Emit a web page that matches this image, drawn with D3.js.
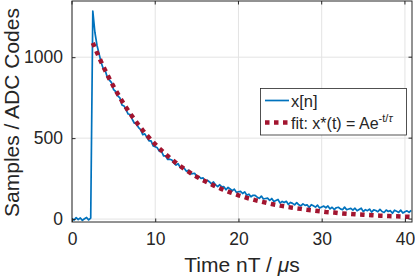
<!DOCTYPE html>
<html>
<head>
<meta charset="utf-8">
<script src="https://cdn.jsdelivr.net/npm/d3@7"></script>
<style>
  body { margin: 0; background: #fff; }
  text { font-family: "Liberation Sans", Arial, sans-serif; fill: #262626; }
</style>
</head>
<body>
<svg id="chart" width="415" height="277"></svg>
<script>
// sampled signal x[n], one sample every 0.25 us starting at t = 0
var sampleStep = 0.25;
var samples = [4,-6,9,-3,7,-8,2,10,-5,6,
  1285,1154,1074,1022,
  967,930,916,874,858,843,799,788,761,749,
  705,699,675,649,646,615,592,589,565,553,
  522,526,505,483,483,452,447,440,418,419,
  390,391,368,370,365,346,334,342,319,316,
  313,296,302,279,281,283,257,262,251,255,
  231,240,231,218,229,211,201,212,199,200,
  181,196,186,175,185,165,169,171,158,168,
  147,154,138,147,147,135,128,142,124,127,
  129,116,127,108,115,121,99,109,102,110,
  90,103,97,88,102,88,81,94,85,88,
  72,89,82,74,86,68,75,80,70,81,
  63,73,59,70,73,63,58,74,58,62,
  66,55,67,51,59,67,46,58,52,62,
  43,57,53,45,60,47,41,56,47,52,
  36,55,49,41,55,37,45,51,41,54];

// fitted curve x*(t), one point every 0.5 us starting at t = 2.5
var fitStart = 2.5, fitStep = 0.5;
var fitValues = [1089,1028,971,917,866,818,773,730,689,651,
  615,581,548,518,489,462,436,412,389,368,
  347,328,310,293,276,261,246,233,220,208,
  196,185,175,165,156,147,139,131,124,117,
  111,105,99,93,88,83,79,74,70,66,
  63,59,56,53,50,47,44,42,40,37,
  35,33,32,30,28,27,25,24,22,21,
  20,19,18,17,16,15,14,13];

var xTicks = [0, 10, 20, 30, 40];
var yTicks = [0, 500, 1000];

var blue = "#0072BD", red = "#A2142F", axisCol = "#262626";

var svg = d3.select("#chart");
var pLeft = 72, pRight = 412, pTop = 1, pBottom = 222;

var x = d3.scaleLinear().domain([0, 40.85]).range([pLeft, pRight]);
var y = d3.scaleLinear().domain([-18, 1347]).range([pBottom, pTop]);

// GRID
svg.append("g").selectAll("line").data(xTicks).enter().append("line")
    .attr("x1", d => x(d)).attr("x2", d => x(d))
    .attr("y1", pTop).attr("y2", pBottom)
    .attr("stroke", "#e3e3e3").attr("stroke-width", 1);
svg.append("g").selectAll("line").data(yTicks).enter().append("line")
    .attr("x1", pLeft).attr("x2", pRight)
    .attr("y1", d => y(d)).attr("y2", d => y(d))
    .attr("stroke", "#e3e3e3").attr("stroke-width", 1);

// DATA
svg.append("clipPath").attr("id", "clip").append("rect")
    .attr("x", pLeft).attr("y", pTop).attr("width", pRight - pLeft).attr("height", pBottom - pTop);

var line = d3.line().x(d => x(d[0])).y(d => y(d[1]));

var sigPts = samples.map((v, i) => [i * sampleStep, v]);
svg.append("path").datum(sigPts)
    .attr("clip-path", "url(#clip)")
    .attr("d", line)
    .attr("fill", "none").attr("stroke", blue)
    .attr("stroke-width", 1.7).attr("stroke-linejoin", "round");

var fitPts = fitValues.map((v, i) => [fitStart + i * fitStep, v]);
svg.append("path").datum(fitPts)
    .attr("clip-path", "url(#clip)")
    .attr("d", line)
    .attr("fill", "none").attr("stroke", red)
    .attr("stroke-width", 4.5).attr("stroke-dasharray", "4.5,4.5");

// AXES
var xAxis = d3.axisBottom(x).tickValues(xTicks).tickFormat(d3.format("d"))
    .tickSizeInner(-3.5).tickSizeOuter(0).tickPadding(11);
var yAxis = d3.axisLeft(y).tickValues(yTicks).tickFormat(d3.format("d"))
    .tickSizeInner(-3.5).tickSizeOuter(0).tickPadding(9);

var gx = svg.append("g").attr("transform", "translate(0," + pBottom + ")").call(xAxis);
var gy = svg.append("g").attr("transform", "translate(" + pLeft + ",0)").call(yAxis);
[gx, gy].forEach(function (g) {
    g.select(".domain").remove();
    g.selectAll("line").attr("stroke", axisCol);
    g.selectAll("text").attr("font-size", 17.5).attr("fill", axisCol)
        .attr("font-family", "Liberation Sans, Arial, sans-serif");
});

// top / right ticks
svg.append("g").selectAll("line").data(xTicks).enter().append("line")
    .attr("x1", d => x(d)).attr("x2", d => x(d))
    .attr("y1", pTop).attr("y2", pTop + 3.5).attr("stroke", axisCol);
svg.append("g").selectAll("line").data(yTicks).enter().append("line")
    .attr("x1", pRight).attr("x2", pRight - 3.5)
    .attr("y1", d => y(d)).attr("y2", d => y(d)).attr("stroke", axisCol);

// BOX
svg.append("rect")
    .attr("x", pLeft).attr("y", pTop).attr("width", pRight - pLeft).attr("height", pBottom - pTop)
    .attr("fill", "none").attr("stroke", axisCol).attr("stroke-width", 1);

// LABELS
var xl = svg.append("text").attr("x", (pLeft + pRight) / 2).attr("y", 272)
    .attr("text-anchor", "middle").attr("font-size", 21);
xl.append("tspan").text("Time nT / ");
xl.append("tspan").attr("font-style", "italic").text("\u03bc");
xl.append("tspan").text("s");

svg.append("text")
    .attr("transform", "translate(19," + ((pTop + pBottom) / 2 + 1) + ") rotate(-90)")
    .attr("text-anchor", "middle").attr("font-size", 21)
    .text("Samples / ADC Codes");

// LEGEND
var lg = svg.append("g");
lg.append("rect").attr("x", 260.5).attr("y", 88.5).attr("width", 146).attr("height", 46.5)
    .attr("fill", "#fff").attr("stroke", axisCol).attr("stroke-width", 0.8);
lg.append("line").attr("x1", 265).attr("x2", 289).attr("y1", 100.5).attr("y2", 100.5)
    .attr("stroke", blue).attr("stroke-width", 1.7);
lg.append("text").attr("x", 291).attr("y", 106.5).attr("font-size", 16.5).text("x[n]");
lg.append("line").attr("x1", 265).attr("x2", 289).attr("y1", 122.5).attr("y2", 122.5)
    .attr("stroke", red).attr("stroke-width", 4.5).attr("stroke-dasharray", "4.5,4.5");
var ft = lg.append("text").attr("x", 291).attr("y", 128.5).attr("font-size", 16);
ft.append("tspan").text("fit: x*(t) = Ae");
ft.append("tspan").attr("dy", -7).attr("font-size", 11).text("-t/");
ft.append("tspan").attr("font-size", 11).attr("font-style", "italic").text("\u03c4");
</script>
</body>
</html>
